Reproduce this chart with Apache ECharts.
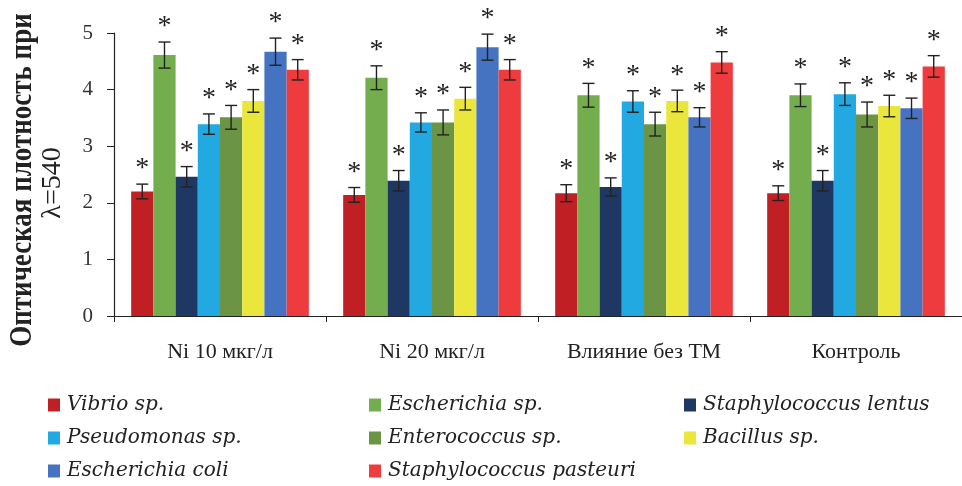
<!DOCTYPE html>
<html>
<head>
<meta charset="utf-8">
<script src="https://cdn.jsdelivr.net/npm/echarts@6/dist/echarts.min.js"></script>
<style>
  html, body { margin: 0; padding: 0; background: #fff; }
  #chart { width: 962px; height: 486px; }
</style>
</head>
<body>
<div id="chart"></div>
<script>
// Experimental groups on the x axis
const categories = ['Ni 10 мкг/л', 'Ni 20 мкг/л', 'Влияние без ТМ', 'Контроль'];

// Strains, in drawing order inside each group
const strains = [
  'Vibrio sp.', 'Escherichia sp.', 'Staphylococcus lentus', 'Pseudomonas sp.',
  'Enterococcus sp.', 'Bacillus sp.', 'Escherichia coli', 'Staphylococcus pasteuri'
];

// Optical density at 540 nm, one value per group
const vibrio       = [2.20, 2.14, 2.17, 2.17];
const escherichia  = [4.61, 4.21, 3.90, 3.90];
const staphLentus  = [2.46, 2.39, 2.28, 2.39];
const pseudomonas  = [3.39, 3.42, 3.79, 3.92];
const enterococcus = [3.51, 3.42, 3.39, 3.56];
const bacillus     = [3.80, 3.84, 3.80, 3.71];
const eColi        = [4.67, 4.75, 3.51, 3.67];
const staphPast    = [4.35, 4.35, 4.48, 4.41];

// Standard deviations (half-length of the error bars)
const vibrioErr       = [0.13, 0.13, 0.15, 0.13];
const escherichiaErr  = [0.23, 0.21, 0.21, 0.20];
const staphLentusErr  = [0.18, 0.18, 0.16, 0.18];
const pseudomonasErr  = [0.18, 0.17, 0.19, 0.20];
const enterococcusErr = [0.21, 0.22, 0.21, 0.22];
const bacillusErr     = [0.20, 0.20, 0.19, 0.19];
const eColiErr        = [0.24, 0.23, 0.17, 0.18];
const staphPastErr    = [0.18, 0.18, 0.19, 0.19];

// Y axis ticks
const yTicks = [0, 1, 2, 3, 4, 5];

const values = [vibrio, escherichia, staphLentus, pseudomonas, enterococcus, bacillus, eColi, staphPast];
const errors = [vibrioErr, escherichiaErr, staphLentusErr, pseudomonasErr, enterococcusErr, bacillusErr, eColiErr, staphPastErr];
const colors = ['#C01F24', '#74AD4E', '#1F3763', '#22A9E1', '#6B9544', '#EAE63C', '#4573C2', '#EE3B3D'];

const CAT_GAP = 0.162;
const N = strains.length;

const chart = echarts.init(document.getElementById('chart'));

const series = [];
strains.forEach((name, i) => {
  series.push({
    name: name,
    type: 'bar',
    data: values[i],
    barGap: '0%',
    barCategoryGap: (CAT_GAP * 100) + '%',
    itemStyle: { color: colors[i] },
    emphasis: { disabled: true },
    z: 2
  });
});
// Error bars with significance marks, placed on the same band layout as the bars
strains.forEach((name, i) => {
  series.push({
    name: 'sd-' + name,
    type: 'custom',
    z: 5,
    silent: true,
    encode: { x: 0, y: 1 },
    data: values[i].map((v, k) => [k, v, errors[i][k]]),
    renderItem: function (params, api) {
      const cat = api.value(0), v = api.value(1), e = api.value(2);
      const band = api.size([1, 0])[0];
      const barW = band * (1 - CAT_GAP) / N;
      const cx = api.coord([cat, 0])[0] - band * (1 - CAT_GAP) / 2 + (i + 0.5) * barW;
      const yTop = api.coord([cat, v + e])[1];
      const yBot = api.coord([cat, v - e])[1];
      const cap = 6;
      const st = { stroke: '#222', lineWidth: 1.4 };
      return {
        type: 'group',
        children: [
          { type: 'line', shape: { x1: cx, y1: yTop, x2: cx, y2: yBot }, style: st },
          { type: 'line', shape: { x1: cx - cap, y1: yTop, x2: cx + cap, y2: yTop }, style: st },
          { type: 'line', shape: { x1: cx - cap, y1: yBot, x2: cx + cap, y2: yBot }, style: st },
          { type: 'text', x: cx, y: yTop - 1,
            style: { text: '*', fill: '#222', font: '28px "Liberation Serif"', align: 'center', verticalAlign: 'bottom' } }
        ]
      };
    }
  });
});

const legendCommon = {
  orient: 'vertical',
  icon: 'rect',
  itemWidth: 12,
  itemHeight: 13,
  itemGap: 13,
  top: 390,
  height: 120,
  selectedMode: false,
  textStyle: { fontFamily: 'DejaVu Serif', fontStyle: 'italic', fontSize: 20, color: '#222', padding: [0, 0, 0, 2] }
};

chart.setOption({
  animation: false,
  backgroundColor: '#fff',
  grid: { left: 114, top: 33, width: 859, height: 283, containLabel: false },
  legend: [
    Object.assign({}, legendCommon, { left: 43, data: [strains[0], strains[3], strains[6]] }),
    Object.assign({}, legendCommon, { left: 364, data: [strains[1], strains[4], strains[7]] }),
    Object.assign({}, legendCommon, { left: 679, data: [strains[2], strains[5]] })
  ],
  xAxis: {
    type: 'category',
    data: categories,
    axisLine: { lineStyle: { color: '#222', width: 1.2 } },
    axisTick: { show: true, length: 6, lineStyle: { color: '#222' } },
    axisLabel: { margin: 25, fontFamily: 'Liberation Serif', fontSize: 22, color: '#222' }
  },
  yAxis: {
    type: 'value',
    min: yTicks[0],
    max: yTicks[yTicks.length - 1],
    interval: 1,
    splitLine: { show: false },
    axisLine: { show: true, lineStyle: { color: '#222', width: 1.2 } },
    axisTick: { show: true, length: 7, lineStyle: { color: '#222' } },
    axisLabel: { margin: 21, fontFamily: 'Liberation Serif', fontSize: 21, color: '#333' }
  },
  graphic: [
    { type: 'text', x: 23, y: 180, rotation: Math.PI / 2, scaleY: 1.15,
      style: { text: 'Оптическая плотность при', font: 'bold 27px "Liberation Serif"', fill: '#222', align: 'center', verticalAlign: 'middle' } },
    { type: 'text', x: 53, y: 183, rotation: Math.PI / 2,
      style: { text: 'λ=540', font: '28px "Liberation Serif"', fill: '#222', align: 'center', verticalAlign: 'middle' } }
  ],
  series: series
});
</script>
</body>
</html>
